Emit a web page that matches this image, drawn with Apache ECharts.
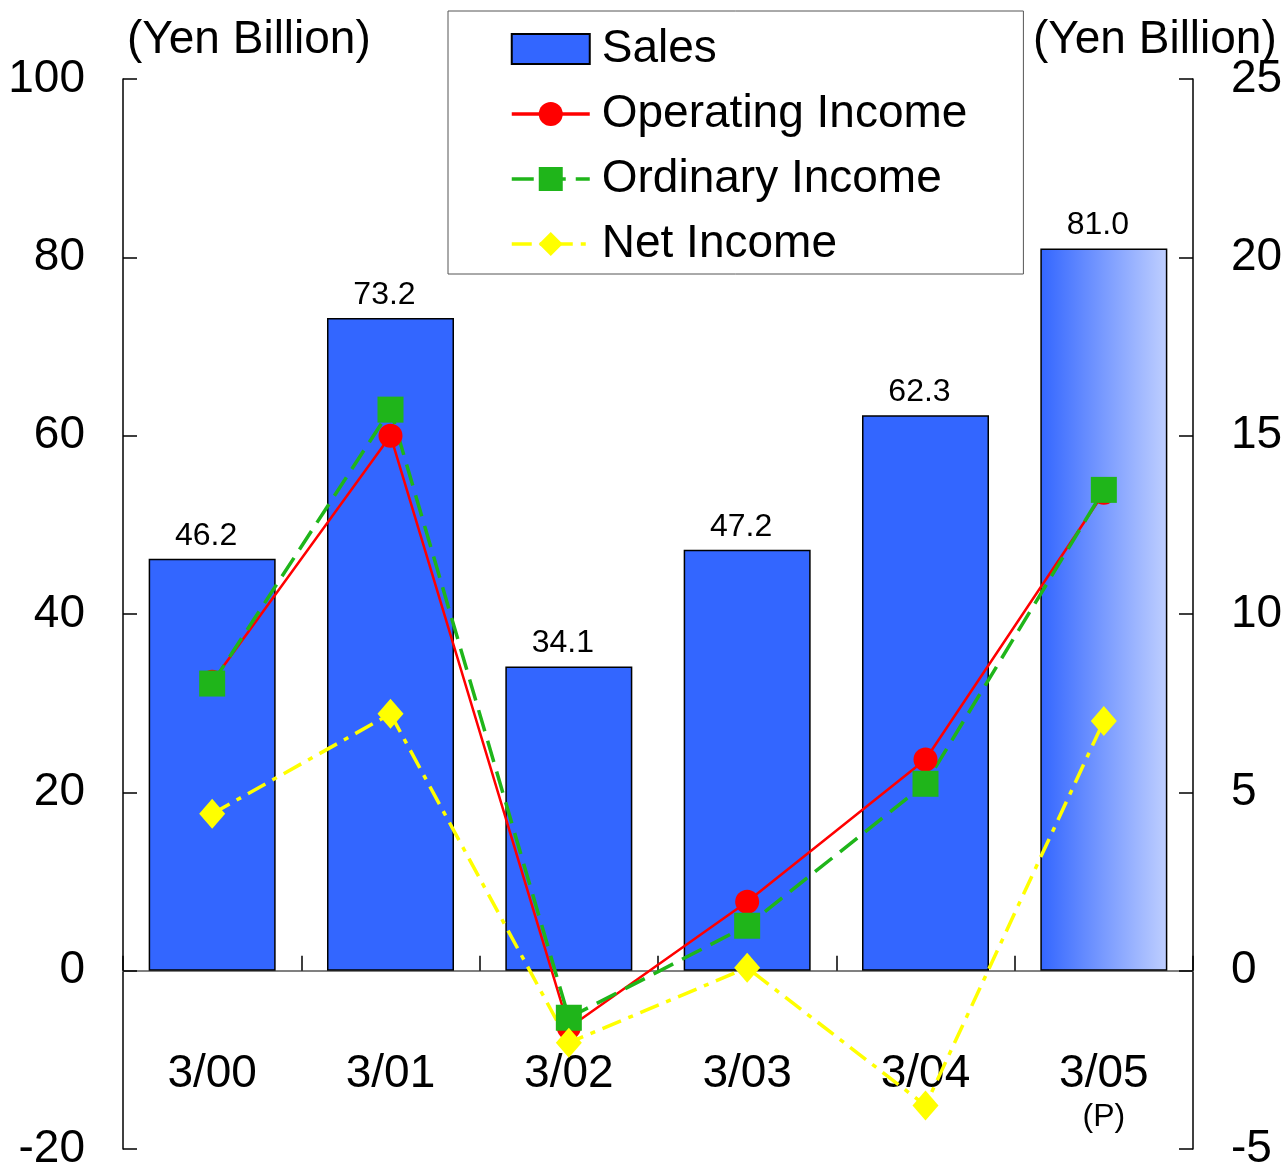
<!DOCTYPE html>
<html><head><meta charset="utf-8">
<script src="https://cdn.jsdelivr.net/npm/echarts@6/dist/echarts.min.js"></script>
<style>html,body{margin:0;padding:0;background:#fff}#c{width:1285px;height:1166px}</style>
</head><body><div id="c"></div>
<script>
// ---- data ----
const categories = ['3/00', '3/01', '3/02', '3/03', '3/04', '3/05'];
const sales = [46.2, 73.2, 34.1, 47.2, 62.3, 81.0];            // left axis
const operatingIncome = [8.1, 15.0, -1.6, 1.93, 5.92, 13.4];    // right axis
const ordinaryIncome = [8.05, 15.73, -1.32, 1.26, 5.24, 13.48]; // right axis
const netIncome = [4.4, 7.2, -2.02, 0.08, -3.78, 7.0];          // right axis
const leftTicks = [-20, 0, 20, 40, 60, 80, 100];
const rightTicks = [-5, 0, 5, 10, 15, 20, 25];
const unitLabel = '(Yen Billion)';
const provisionalCategory = '3/05';
const provisionalNote = '(P)';

// ---- chart ----
const FONT = "'Liberation Sans', Arial, sans-serif";
const chart = echarts.init(document.getElementById('c'), null, {renderer: 'canvas'});

const salesData = sales.map((v, i) => categories[i] === provisionalCategory ? {
  value: v,
  itemStyle: {
    color: new echarts.graphic.LinearGradient(0, 0, 1, 0, [
      {offset: 0, color: '#3366ff'},
      {offset: 1, color: '#bfcfff'}
    ])
  }
} : v);

function valueAxis(ticks, position) {
  return {
    type: 'value',
    position: position,
    min: ticks[0],
    max: ticks[ticks.length - 1],
    interval: ticks[1] - ticks[0],
    splitLine: {show: false},
    axisLine: {show: true, onZero: false, lineStyle: {color: '#000', width: 1.5}},
    axisTick: {show: true, inside: true, length: 14, lineStyle: {color: '#000', width: 1.5}},
    axisLabel: {fontSize: 46, color: '#000', fontFamily: FONT, margin: 38}
  };
}

chart.setOption({
  animation: false,
  backgroundColor: '#fff',
  textStyle: {fontFamily: FONT},
  grid: {left: 123, right: 92, top: 79, bottom: 17, containLabel: false, outerBoundsMode: 'none'},
  graphic: [
    {type: 'text', left: 127, top: 17, style: {text: unitLabel, font: '46px ' + FONT, fill: '#000'}},
    {type: 'text', left: 1033, top: 17, style: {text: unitLabel, font: '46px ' + FONT, fill: '#000'}}
  ],
  legend: {
    orient: 'vertical',
    left: 448, top: 11,
    padding: [15, 56, 7, 62],
    itemWidth: 78, itemHeight: 30, itemGap: 19,
    borderColor: '#555', borderWidth: 1,
    lineStyle: {width: 3.5},
    textStyle: {fontSize: 46, color: '#000', fontFamily: FONT, padding: [0, 0, 0, 7]},
    data: [
      {name: 'Sales', icon: 'rect'},
      {name: 'Operating Income'},
      {name: 'Ordinary Income'},
      {name: 'Net Income'}
    ]
  },
  xAxis: [
    {
      type: 'category',
      data: categories,
      boundaryGap: true,
      axisLine: {show: true, onZero: true, lineStyle: {color: '#808080', width: 2}},
      axisTick: {show: true, inside: true, length: 15, lineStyle: {color: '#000', width: 1.5}},
      axisLabel: {show: false},
      splitLine: {show: false}
    },
    {
      type: 'category',
      data: categories,
      position: 'bottom',
      boundaryGap: true,
      axisLine: {show: false, onZero: false},
      axisTick: {show: false},
      axisLabel: {
        show: true,
        fontSize: 46, color: '#000', fontFamily: FONT, margin: -98, interval: 0,
        formatter: v => v === provisionalCategory ? v + '\n{p|' + provisionalNote + '}' : v,
        rich: {p: {fontSize: 32, lineHeight: 40, color: '#000', fontFamily: FONT}}
      },
      splitLine: {show: false}
    }
  ],
  yAxis: [valueAxis(leftTicks, 'left'), valueAxis(rightTicks, 'right')],
  series: [
    {
      name: 'Sales', type: 'bar', yAxisIndex: 0, barWidth: 127,
      data: salesData,
      itemStyle: {color: '#3366ff', borderColor: '#000', borderWidth: 1.5},
      label: {show: true, position: 'top', distance: 7, offset: [-6, 0], fontSize: 32, color: '#000', fontFamily: FONT,
        formatter: p => Number(p.value).toFixed(1)},
      emphasis: {disabled: true}
    },
    {
      name: 'Operating Income', type: 'line', yAxisIndex: 1, data: operatingIncome,
      symbol: 'circle', symbolSize: 24,
      lineStyle: {color: '#ff0000', width: 2.5},
      itemStyle: {color: '#ff0000'},
      emphasis: {disabled: true}
    },
    {
      name: 'Ordinary Income', type: 'line', yAxisIndex: 1, data: ordinaryIncome,
      symbol: 'rect', symbolSize: 26,
      lineStyle: {color: '#1fb51a', width: 3.5, type: [22, 10]},
      itemStyle: {color: '#1fb51a'},
      emphasis: {disabled: true}
    },
    {
      name: 'Net Income', type: 'line', yAxisIndex: 1, data: netIncome,
      symbol: 'diamond', symbolSize: [26, 30],
      lineStyle: {color: '#ffff00', width: 3.5, type: [20, 8, 5, 8]},
      itemStyle: {color: '#ffff00'},
      emphasis: {disabled: true}
    }
  ]
});
</script>
</body></html>
